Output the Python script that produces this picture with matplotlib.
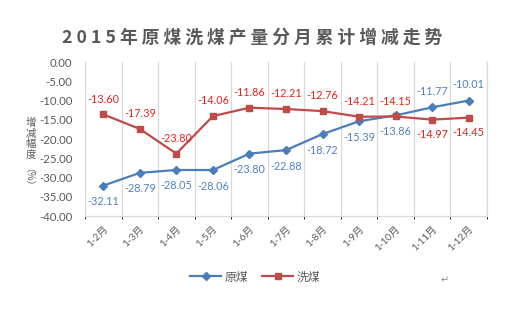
import matplotlib
matplotlib.use("Agg")
import matplotlib.pyplot as plt
from matplotlib.ticker import FixedLocator, FormatStrFormatter

plt.rcParams["font.family"] = ["Lato", "Noto Sans CJK SC", "DejaVu Sans"]

# data
months = ["1-2月", "1-3月", "1-4月", "1-5月", "1-6月", "1-7月",
          "1-8月", "1-9月", "1-10月", "1-11月", "1-12月"]
raw_coal = [-32.11, -28.79, -28.05, -28.06, -23.80, -22.88,
            -18.72, -15.39, -13.86, -11.77, -10.01]
washed_coal = [-13.60, -17.39, -23.80, -14.06, -11.86, -12.21,
               -12.76, -14.21, -14.15, -14.97, -14.45]
# label placement: +1 above the point, -1 below
raw_side = [-1, -1, -1, -1, -1, -1, -1, -1, -1, 1, 1]
washed_side = [1, 1, 1, 1, 1, 1, 1, 1, 1, -1, -1]
y_ticks = [0, -5, -10, -15, -20, -25, -30, -35, -40]

BLUE_LINE = "#4A7EBB"
RED_LINE = "#BE4B48"
BLUE_TEXT = "#4F81BD"
RED_TEXT = "#E8221E"
GREY = "#595959"
GRID = "#D9D9D9"
CJK = ["Noto Sans CJK SC", "DejaVu Sans"]

fig = plt.figure(figsize=(5.24, 3.13), dpi=100)
ax = fig.add_axes([0.1622, 0.3099, 0.7672, 0.492])

x = list(range(len(months)))
ax.plot(x, raw_coal, color=BLUE_LINE, lw=1.6, marker="D", ms=4.5, label="原煤")
ax.plot(x, washed_coal, color=RED_LINE, lw=1.6, marker="s", ms=5, label="洗煤")

for xi, v, s in zip(x, raw_coal, raw_side):
    ax.annotate(f"{v:.2f}", (xi, v), xytext=(0, 11.5 * s), textcoords="offset points",
                ha="center", va="center", fontsize=7.8, color=BLUE_TEXT)
for xi, v, s in zip(x, washed_coal, washed_side):
    ax.annotate(f"{v:.2f}", (xi, v), xytext=(0, 11 * s), textcoords="offset points",
                ha="center", va="center", fontsize=7.8, color=RED_TEXT)

ax.set_xlim(-0.5, len(months) - 0.5)
ax.set_ylim(-40, 0)
ax.set_yticks(y_ticks)
ax.yaxis.set_major_formatter(FormatStrFormatter("%.2f"))
ax.set_xticks(x)
ax.set_xticklabels(months, rotation=45, ha="right", rotation_mode="anchor")
ax.tick_params(axis="both", length=0, colors=GREY)
ax.tick_params(axis="x", pad=6, labelsize=7.2)
ax.tick_params(axis="y", pad=9, labelsize=8.2)

# vertical gridlines on category boundaries (Excel style)
ax.xaxis.set_minor_locator(FixedLocator([i - 0.5 for i in range(len(months) + 1)]))
ax.grid(True, which="minor", axis="x", color=GRID, lw=0.9)
ax.grid(False, which="major")
ax.spines["top"].set_visible(False)
for side in ["left", "right", "bottom"]:
    ax.spines[side].set_color(GRID)
    ax.spines[side].set_linewidth(0.9)

# vertical (stacked) axis title like the original, one glyph per line
for i, ch in enumerate("增减幅度"):
    fig.text(0.059, 1 - (123 + 10.6 * i) / 313, ch, ha="center", va="center",
             fontsize=7.5, color=GREY, family=CJK)
fig.text(23 / 524, 1 - 182 / 313, "（%）", ha="center", va="center", rotation=-90,
         fontsize=7, color=GREY, family=CJK)

title = " ".join("2015年原煤洗煤产量分月累计增减走势")
fig.text(0.481, 0.879, title, ha="center", va="center", fontsize=12.8,
         fontweight="bold", color=GREY, family=CJK)

leg = fig.legend(loc="center", bbox_to_anchor=(0.487, 0.115), ncol=2, frameon=False,
                 fontsize=8.5, handlelength=2.6, columnspacing=1.2, handletextpad=0.3)
for t in leg.get_texts():
    t.set_color(GREY)

fig.text(0.84, 0.095, "↵", fontsize=7, color="#888888", family="DejaVu Sans")

fig.savefig("out.png", dpi=100)
